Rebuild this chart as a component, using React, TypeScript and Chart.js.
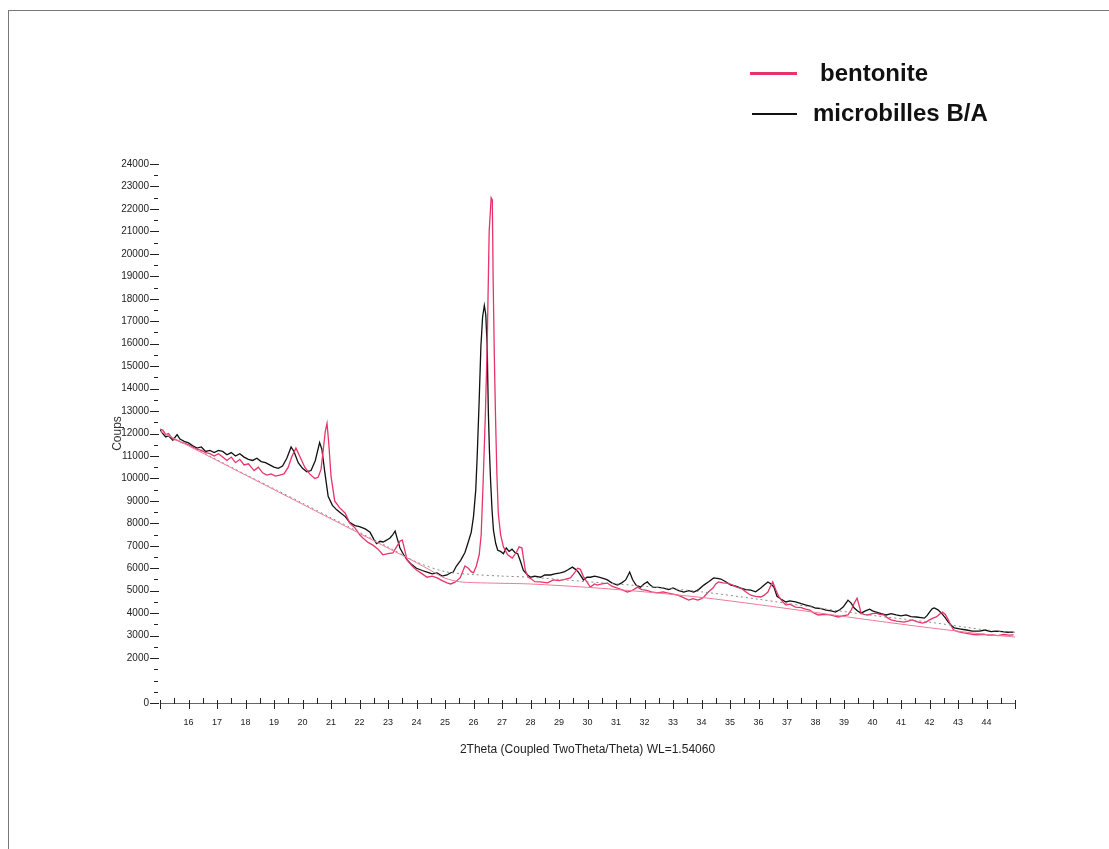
import React, { useEffect, useRef } from "react";
import { Chart, registerables } from "chart.js";

Chart.register(...registerables);

const PINK = "#e8336b";
const BLACK = "#111111";
const FONT = "'Liberation Sans', Arial, sans-serif";

// [2theta, counts]
const microbilles: [number, number][] = [
  [15.0, 12150], [15.1, 12000], [15.2, 11850], [15.3, 11900], [15.45, 11700], [15.6, 11950], [15.7, 11750], [15.85, 11650],
  [16.0, 11580], [16.15, 11450], [16.3, 11350], [16.45, 11400], [16.6, 11200], [16.75, 11250], [16.9, 11150], [17.05, 11250],
  [17.2, 11200], [17.35, 11050], [17.5, 11150], [17.65, 11000], [17.8, 11100], [17.95, 10950], [18.1, 10850], [18.25, 10800],
  [18.4, 10900], [18.55, 10750], [18.7, 10700], [18.85, 10600], [19.0, 10500], [19.15, 10450], [19.3, 10550], [19.45, 10900],
  [19.6, 11400], [19.7, 11200], [19.85, 10700], [20.0, 10450], [20.15, 10300], [20.3, 10350], [20.45, 10800], [20.6, 11600],
  [20.68, 11300], [20.78, 10300], [20.9, 9200], [21.05, 8800], [21.2, 8600], [21.35, 8450], [21.5, 8300], [21.65, 8050],
  [21.84, 7900], [22.0, 7850], [22.2, 7750], [22.37, 7600], [22.5, 7300], [22.6, 7100], [22.72, 7200], [22.83, 7170],
  [22.95, 7250], [23.07, 7350], [23.17, 7500], [23.25, 7660], [23.33, 7300], [23.42, 6900], [23.55, 6600], [23.67, 6370],
  [23.8, 6200], [24.0, 6000], [24.2, 5900], [24.37, 5830], [24.55, 5750], [24.72, 5790], [24.9, 5650], [25.07, 5700],
  [25.2, 5800], [25.29, 5830], [25.4, 6100], [25.55, 6350], [25.7, 6700], [25.8, 7100], [25.92, 7600], [26.0, 8300],
  [26.08, 9500], [26.13, 11000], [26.2, 13500], [26.26, 15900], [26.32, 17200], [26.38, 17700], [26.43, 17300], [26.48, 15900],
  [26.52, 13000], [26.56, 11200], [26.6, 9900], [26.65, 8600], [26.7, 7700], [26.78, 7100], [26.85, 6800], [26.95, 6750],
  [27.05, 6650], [27.15, 6900], [27.25, 6750], [27.35, 6850], [27.45, 6700], [27.55, 6650], [27.65, 6300], [27.75, 5900],
  [27.9, 5700], [28.0, 5600], [28.15, 5650], [28.35, 5600], [28.5, 5700], [28.7, 5700], [28.85, 5750], [29.05, 5790],
  [29.2, 5850], [29.3, 5920], [29.47, 6050], [29.58, 5950], [29.68, 5830], [29.86, 5480], [29.98, 5600], [30.1, 5600],
  [30.25, 5650], [30.4, 5600], [30.55, 5550], [30.7, 5480], [30.85, 5350], [31.05, 5250], [31.2, 5350], [31.34, 5480],
  [31.48, 5830], [31.58, 5500], [31.7, 5250], [31.86, 5160], [31.98, 5300], [32.1, 5390], [32.2, 5250], [32.3, 5160],
  [32.5, 5150], [32.67, 5120], [32.85, 5050], [33.0, 5120], [33.2, 5000], [33.38, 4940], [33.55, 5000], [33.73, 4940],
  [33.9, 5050], [34.08, 5250], [34.25, 5400], [34.43, 5570], [34.55, 5550], [34.68, 5520], [34.85, 5400], [35.03, 5250],
  [35.2, 5200], [35.38, 5120], [35.55, 5050], [35.73, 5030], [35.9, 4950], [36.08, 5120], [36.2, 5250], [36.33, 5390],
  [36.44, 5300], [36.54, 5160], [36.65, 4750], [36.8, 4620], [36.96, 4500], [37.1, 4550], [37.3, 4500], [37.5, 4420],
  [37.67, 4360], [37.85, 4300], [38.0, 4230], [38.2, 4200], [38.37, 4140], [38.55, 4100], [38.7, 4050], [38.85, 4150],
  [38.97, 4270], [39.07, 4450], [39.14, 4580], [39.25, 4450], [39.36, 4230], [39.48, 4100], [39.6, 4000], [39.75, 4100],
  [39.9, 4180], [40.0, 4100], [40.13, 4050], [40.3, 3980], [40.48, 3920], [40.65, 3980], [40.83, 3920], [41.0, 3880],
  [41.18, 3920], [41.35, 3850], [41.54, 3830], [41.7, 3800], [41.82, 3780], [41.92, 3900], [42.0, 4050], [42.1, 4200],
  [42.17, 4230], [42.3, 4150], [42.42, 4000], [42.55, 3800], [42.66, 3600], [42.77, 3450], [42.87, 3340], [43.05, 3300],
  [43.3, 3250], [43.5, 3200], [43.75, 3200], [43.95, 3250], [44.15, 3180], [44.35, 3200], [44.55, 3180], [44.75, 3150],
  [44.95, 3160],
];

const bentonite: [number, number][] = [
  [15.0, 12200], [15.1, 12150], [15.2, 11950], [15.3, 12000], [15.45, 11750], [15.6, 11700], [15.75, 11600], [15.9, 11550],
  [16.0, 11500], [16.15, 11400], [16.3, 11300], [16.45, 11250], [16.6, 11150], [16.75, 11100], [16.9, 11000], [17.05, 11100],
  [17.2, 10950], [17.35, 10800], [17.5, 10950], [17.65, 10700], [17.8, 10850], [17.95, 10600], [18.1, 10650], [18.2, 10500],
  [18.3, 10350], [18.45, 10500], [18.6, 10250], [18.75, 10150], [18.9, 10200], [19.05, 10100], [19.2, 10150], [19.35, 10200],
  [19.5, 10500], [19.62, 10950], [19.77, 11350], [19.9, 11000], [20.08, 10500], [20.25, 10200], [20.43, 10000], [20.55, 10050],
  [20.65, 10400], [20.73, 11300], [20.8, 12100], [20.86, 12450], [20.92, 11600], [21.0, 10100], [21.13, 9000], [21.3, 8700],
  [21.5, 8450], [21.66, 8000], [21.84, 7800], [22.0, 7500], [22.12, 7350], [22.3, 7150], [22.47, 7030], [22.65, 6850],
  [22.82, 6600], [23.0, 6650], [23.17, 6680], [23.3, 6950], [23.42, 7200], [23.5, 7260], [23.58, 6850], [23.67, 6370],
  [23.85, 6100], [24.0, 5920], [24.2, 5750], [24.37, 5600], [24.55, 5650], [24.72, 5570], [24.9, 5450], [25.07, 5350],
  [25.2, 5300], [25.35, 5380], [25.53, 5570], [25.7, 6100], [25.82, 6000], [25.92, 5850], [26.0, 5800], [26.1, 6100],
  [26.2, 6600], [26.27, 7500], [26.34, 9900], [26.42, 13000], [26.48, 15900], [26.55, 21000], [26.62, 22500], [26.66, 22400],
  [26.69, 18800], [26.73, 15500], [26.77, 12900], [26.82, 10200], [26.87, 8450], [26.95, 7500], [27.05, 6950], [27.2, 6600],
  [27.36, 6450], [27.5, 6700], [27.6, 6950], [27.7, 6900], [27.82, 5900], [27.92, 5600], [28.0, 5550], [28.15, 5400],
  [28.35, 5390], [28.6, 5350], [28.8, 5480], [29.0, 5450], [29.2, 5500], [29.4, 5570], [29.55, 5800], [29.65, 6000],
  [29.75, 5950], [29.85, 5650], [29.93, 5480], [30.1, 5160], [30.25, 5300], [30.35, 5250], [30.5, 5300], [30.7, 5340],
  [30.85, 5200], [31.05, 5120], [31.2, 5050], [31.4, 4940], [31.55, 5000], [31.76, 5160], [31.9, 5050], [32.04, 5030],
  [32.25, 4950], [32.46, 4900], [32.65, 4950], [32.8, 4900], [33.0, 4850], [33.17, 4800], [33.35, 4700], [33.55, 4580],
  [33.7, 4650], [33.87, 4580], [34.0, 4650], [34.08, 4720], [34.25, 4950], [34.4, 5120], [34.5, 5300], [34.6, 5390],
  [34.75, 5350], [34.9, 5340], [35.1, 5250], [35.25, 5150], [35.38, 5120], [35.55, 4950], [35.73, 4800], [35.9, 4750],
  [36.08, 4720], [36.2, 4800], [36.33, 4940], [36.42, 5200], [36.5, 5390], [36.6, 5050], [36.72, 4720], [36.85, 4500],
  [36.96, 4360], [37.1, 4400], [37.3, 4270], [37.5, 4250], [37.65, 4180], [37.8, 4140], [37.95, 4000], [38.1, 3920],
  [38.3, 3950], [38.5, 3920], [38.65, 3880], [38.8, 3830], [38.95, 3880], [39.14, 3920], [39.26, 4150], [39.36, 4450],
  [39.46, 4670], [39.53, 4350], [39.6, 4000], [39.7, 3950], [39.83, 3920], [40.0, 3980], [40.13, 4000], [40.25, 3950],
  [40.4, 3920], [40.52, 3800], [40.65, 3700], [40.85, 3650], [41.1, 3600], [41.25, 3650], [41.4, 3700], [41.55, 3620],
  [41.75, 3560], [41.88, 3600], [42.0, 3700], [42.12, 3780], [42.24, 3830], [42.35, 3950], [42.45, 4050], [42.55, 3950],
  [42.66, 3700], [42.75, 3450], [42.85, 3250], [43.0, 3180], [43.2, 3120], [43.4, 3080], [43.55, 3050], [43.7, 3030],
  [43.9, 3060], [44.05, 3020], [44.2, 3030], [44.4, 3000], [44.6, 3050], [44.8, 3020], [44.95, 3030],
];

const bentoniteBackground: [number, number][] = [
  [15.0, 12100], [16.0, 11450], [17.0, 10800], [18.0, 10150], [19.0, 9500], [20.0, 8850], [21.0, 8200], [22.0, 7550],
  [23.0, 6900], [24.0, 6250], [24.5, 5900], [25.0, 5560], [25.5, 5400], [26.0, 5360], [27.0, 5330], [28.0, 5300],
  [30.0, 5150], [32.0, 4950], [34.0, 4700], [36.0, 4380], [38.0, 4030], [40.0, 3680], [42.0, 3350], [44.0, 3050], [45.0, 2940],
];

const microbillesBackground: [number, number][] = [
  [15.0, 12100], [16.0, 11470], [17.0, 10830], [18.0, 10180], [19.0, 9540], [20.0, 8900], [21.0, 8250], [22.0, 7600],
  [23.0, 6950], [24.0, 6280], [25.0, 5850], [26.0, 5720], [27.0, 5650], [28.0, 5600], [30.0, 5400], [32.0, 5200],
  [34.0, 4950], [36.0, 4620], [38.0, 4250], [40.0, 3900], [42.0, 3600], [44.0, 3250], [45.0, 3150],
];

const xTitle = "2Theta (Coupled TwoTheta/Theta) WL=1.54060";
const yTitle = "Coups";
const legendItems = [
  { label: "bentonite", color: PINK },
  { label: "microbilles B/A", color: BLACK },
];

const toXY = (arr: [number, number][]) => arr.map(([x, y]) => ({ x, y }));

const tickPlugin = {
  id: "customTicks",
  afterDraw(chart: any) {
    const { ctx, chartArea, scales } = chart;
    const x = scales.x;
    const y = scales.y;
    ctx.save();
    ctx.strokeStyle = "#222";
    ctx.lineWidth = 1;
    y.ticks.forEach((t: any) => {
      const py = Math.round(y.getPixelForValue(t.value)) + 0.5;
      const major = t.value % 1000 === 0 && (t.value >= 2000 || t.value === 0);
      const x0 = major ? chartArea.left - 10 : chartArea.left - 6;
      const x1 = major ? chartArea.left - 1 : chartArea.left - 2;
      ctx.beginPath();
      ctx.moveTo(x0, py);
      ctx.lineTo(x1, py);
      ctx.stroke();
    });
    x.ticks.forEach((t: any) => {
      const px = Math.round(x.getPixelForValue(t.value)) + 0.5;
      const major = Number.isInteger(t.value);
      const by = chartArea.bottom;
      ctx.beginPath();
      ctx.moveTo(px, major ? by - 3 : by - 5);
      ctx.lineTo(px, major ? by + 6 : by + 1);
      ctx.stroke();
    });
    ctx.restore();
  },
};

export default function App() {
  const ref = useRef<HTMLCanvasElement>(null);

  useEffect(() => {
    if (!ref.current) return;
    const chart = new Chart(ref.current, {
      type: "line",
      data: {
        datasets: [
          {
            label: "bentonite background",
            data: toXY(bentoniteBackground),
            borderColor: "#f07a98",
            borderWidth: 1,
            pointRadius: 0,
            tension: 0.3,
          },
          {
            label: "microbilles background",
            data: toXY(microbillesBackground),
            borderColor: "#8a8a8a",
            borderWidth: 1,
            borderDash: [2, 3],
            pointRadius: 0,
            tension: 0.3,
          },
          {
            label: "bentonite",
            data: toXY(bentonite),
            borderColor: PINK,
            borderWidth: 1.3,
            pointRadius: 0,
            tension: 0,
          },
          {
            label: "microbilles B/A",
            data: toXY(microbilles),
            borderColor: BLACK,
            borderWidth: 1.3,
            pointRadius: 0,
            tension: 0,
          },
        ],
      },
      options: {
        responsive: false,
        animation: false,
        layout: { padding: { left: 0, top: 164, right: 94, bottom: 76 } },
        plugins: { legend: { display: false }, tooltip: { enabled: false } },
        scales: {
          x: {
            type: "linear",
            min: 15,
            max: 45,
            afterFit: (s: any) => {
              s.height = 70;
            },
            ticks: {
              stepSize: 0.5,
              autoSkip: false,
              maxRotation: 0,
              padding: 6,
              color: "#222",
              font: { family: FONT, size: 9 },
              callback: (v: any) => (Number.isInteger(v) && v >= 16 && v <= 44 ? String(v) : ""),
            },
            grid: { display: true, drawOnChartArea: false, drawTicks: true, tickLength: 8, tickColor: "rgba(0,0,0,0)" },
            border: { display: true, color: "#666", dash: [2, 2], width: 1 },
            title: {
              display: true,
              text: xTitle,
              color: "#222",
              font: { family: FONT, size: 12 },
              padding: { top: 0, bottom: 16 },
            },
          },
          y: {
            type: "linear",
            min: 0,
            max: 24000,
            afterFit: (s: any) => {
              s.width = 160;
            },
            ticks: {
              stepSize: 500,
              autoSkip: false,
              padding: 2,
              color: "#222",
              font: { family: FONT, size: 10 },
              callback: (v: any) => (v % 1000 === 0 && (v >= 2000 || v === 0) ? String(v) : ""),
            },
            grid: { display: true, drawOnChartArea: false, drawTicks: true, tickLength: 9, tickColor: "rgba(0,0,0,0)" },
            border: { display: false },
            title: {
              display: true,
              text: yTitle,
              color: "#333",
              font: { family: FONT, size: 12 },
              padding: { top: 110, bottom: 0 },
            },
          },
        },
      },
      plugins: [tickPlugin],
    } as any);
    return () => chart.destroy();
  }, []);

  return (
    <div style={{ position: "absolute", left: 0, top: 0, width: 1109, height: 849, background: "#fff", overflow: "hidden" }}>
      <div style={{ position: "absolute", left: 8, top: 10, width: 1200, height: 900, borderLeft: "1px solid #777", borderTop: "1px solid #777" }} />
      <canvas ref={ref} width={1109} height={849} style={{ position: "absolute", left: 0, top: 0, display: "block" }} />
      {legendItems.map((item, i) => (
        <React.Fragment key={item.label}>
          <div
            style={{
              position: "absolute",
              left: i === 0 ? 750 : 752,
              top: i === 0 ? 72 : 113,
              width: i === 0 ? 47 : 45,
              height: i === 0 ? 3 : 2,
              background: item.color,
            }}
          />
          <div
            style={{
              position: "absolute",
              left: i === 0 ? 820 : 813,
              top: i === 0 ? 61 : 101,
              fontFamily: FONT,
              fontWeight: "bold",
              fontSize: 24,
              lineHeight: "24px",
              color: "#111",
              whiteSpace: "nowrap",
            }}
          >
            {item.label}
          </div>
        </React.Fragment>
      ))}
    </div>
  );
}
